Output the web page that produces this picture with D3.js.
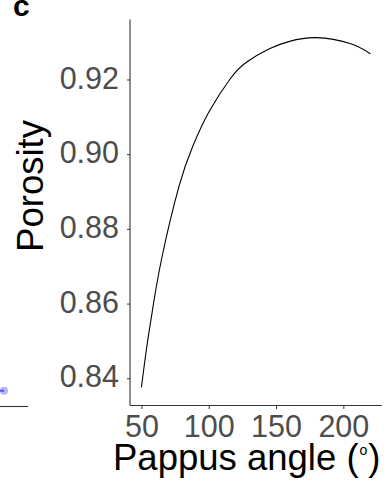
<!DOCTYPE html>
<html>
<head>
<meta charset="utf-8">
<script src="https://cdn.jsdelivr.net/npm/d3@7/dist/d3.min.js"></script>
<style>
  html, body { margin: 0; padding: 0; background: #fff; }
  svg { display: block; font-family: "Liberation Sans", Arial, Helvetica, sans-serif; }
</style>
</head>
<body>
<svg id="chart" width="390" height="482"></svg>
<script>
// Fitted porosity as a function of pappus angle
const pappusAngle = [50, 54, 58, 65, 78, 88, 100, 116, 128, 145, 160, 180, 205, 220];
const porosity    = [0.8376, 0.8485, 0.8578, 0.8720, 0.8915, 0.9020, 0.9112, 0.9202, 0.9246, 0.9282, 0.9302, 0.9312, 0.9296, 0.9269];

const xTicks = [50, 100, 150, 200];
const yTicks = [0.84, 0.86, 0.88, 0.90, 0.92];

// Edge of the neighbouring panel (b), clipped at the left border
const prevPanelX = [1.0];
const prevPanelY = [0.5];

const svg = d3.select("#chart");

const x = d3.scaleLinear().domain([41.5, 228.5]).range([130, 381.7]);
const y = d3.scaleLinear().domain([0.83285, 0.93605]).range([405, 19.5]);

const tickColor = "#4d4d4d";
const axisColor = "#333333";

// x axis
const gx = svg.append("g")
  .attr("transform", `translate(0,${y.range()[0]})`)
  .call(d3.axisBottom(x).tickValues(xTicks).tickSize(4).tickPadding(6).tickFormat(d3.format("d")));
gx.select(".domain").attr("stroke", axisColor).attr("stroke-width", 1.1).attr("d", `M${x.range()[0]},0.5H${x.range()[1]}`);
gx.selectAll(".tick line").attr("stroke", axisColor);
gx.selectAll(".tick text").attr("fill", tickColor).attr("font-size", 30.5)
  .attr("font-family", "Liberation Sans, Arial, sans-serif");

// y axis
const gy = svg.append("g")
  .attr("transform", `translate(${x.range()[0]},0)`)
  .call(d3.axisLeft(y).tickValues(yTicks).tickSize(3).tickPadding(8).tickFormat(d3.format(".2f")));
gy.select(".domain").attr("stroke", axisColor).attr("stroke-width", 1.1).attr("d", `M0,${y.range()[0]}V${y.range()[1]}`);
gy.selectAll(".tick line").attr("stroke", axisColor);
gy.selectAll(".tick text").attr("fill", tickColor).attr("font-size", 30.5)
  .attr("font-family", "Liberation Sans, Arial, sans-serif").attr("dy", "0.28em");

// fitted curve
const pts = pappusAngle.map((a, i) => [a, porosity[i]]);
svg.append("path")
  .datum(pts)
  .attr("fill", "none")
  .attr("stroke", "#000")
  .attr("stroke-width", 1.1)
  .attr("d", d3.line().x(d => x(d[0])).y(d => y(d[1])).curve(d3.curveNatural));

// axis titles
svg.append("text")
  .attr("transform", "translate(43,186) rotate(-90)")
  .attr("text-anchor", "middle")
  .attr("font-size", 36.5)
  .attr("fill", "#000")
  .text("Porosity");

const xt = svg.append("text")
  .attr("x", 113)
  .attr("y", 470)
  .attr("font-size", 36.5)
  .attr("fill", "#000");
xt.append("tspan").text("Pappus angle (");
xt.append("tspan").attr("dy", -15).attr("dx", 1).attr("font-size", 14).text("o");
xt.append("tspan").attr("dy", 15).attr("dx", 1).text(")");

// panel tag
svg.append("text")
  .attr("x", 13)
  .attr("y", 15.5)
  .attr("font-size", 30)
  .attr("font-weight", "bold")
  .attr("fill", "#000")
  .text("c");

// clipped neighbouring panel
const px = d3.scaleLinear().domain([0, 1]).range([-200, 28]);
const py = d3.scaleLinear().domain([0, 1]).range([406.5, 375]);
svg.append("line")
  .attr("x1", 0).attr("x2", px(1))
  .attr("y1", py(0)).attr("y2", py(0))
  .attr("stroke", axisColor).attr("stroke-width", 1.1);
svg.append("line")
  .attr("x1", 0).attr("x2", px(prevPanelX[0]) - 24)
  .attr("y1", py(prevPanelY[0])).attr("y2", py(prevPanelY[0]))
  .attr("stroke", "#3b3bff").attr("stroke-width", 2);
svg.selectAll("circle.prev")
  .data(prevPanelX.map((v, i) => [v, prevPanelY[i]]))
  .join("circle")
  .attr("class", "prev")
  .attr("cx", d => px(d[0]) - 24)
  .attr("cy", d => py(d[1]))
  .attr("r", 4)
  .attr("fill", "#6b6bff")
  .attr("fill-opacity", 0.5);
</script>
</body>
</html>
